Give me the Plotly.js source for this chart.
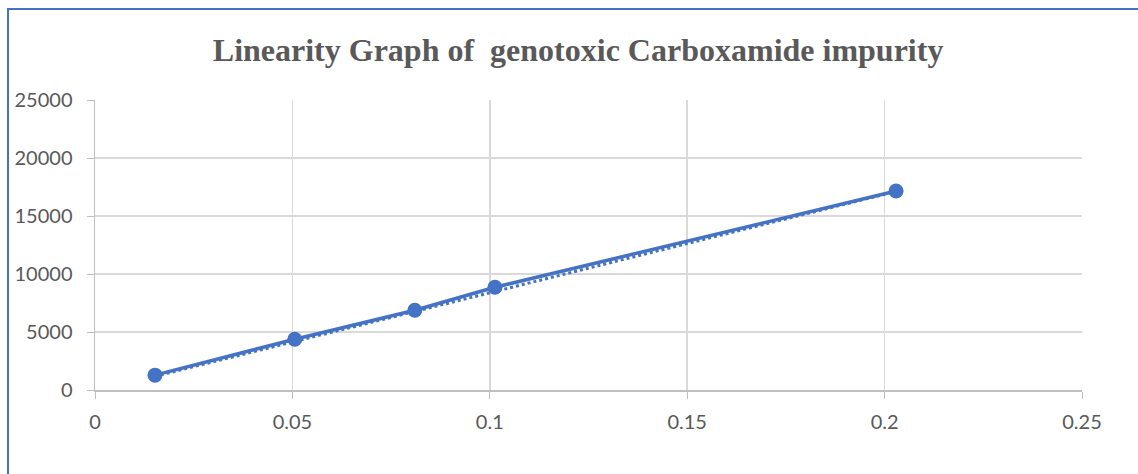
<!DOCTYPE html>
<html><head><meta charset="utf-8">
<script src="https://cdn.plot.ly/plotly-3.0.1.min.js"></script>
<style>
html,body{margin:0;padding:0;background:#fff;}
#wrap{position:relative;width:1138px;height:474px;}
#chart{position:absolute;left:0;top:0;width:1138px;height:474px;}
#frame{position:absolute;left:7px;top:8px;width:1131px;height:466px;border-left:2px solid #4472C4;border-top:2px solid #4472C4;pointer-events:none;}
</style></head>
<body><div id="wrap"><div id="chart"></div><div id="frame"></div></div>
<script>
const concentration = [0.0152, 0.0506, 0.081, 0.1013, 0.2029];
const area = [1280, 4380, 6880, 8860, 17150];
const trendX = [0.0152, 0.2029];
const trendY = [1180, 17120];
const xTicks = [0, 0.05, 0.1, 0.15, 0.2, 0.25];
const xTickText = ['0', '0.05', '0.1', '0.15', '0.2', '0.25'];
const yTicks = [0, 5000, 10000, 15000, 20000, 25000];
const yTickText = ['0', '5000', '10000', '15000', '20000', '25000'];

const blue = '#4472C4';
const traces = [
  {x: trendX, y: trendY, mode: 'lines', line: {color: blue, width: 3, dash: 'dot'}, hoverinfo: 'skip', showlegend: false},
  {x: concentration, y: area, mode: 'lines+markers', line: {color: blue, width: 3.5}, marker: {color: blue, size: 15}, showlegend: false}
];
const tickFont = {family: 'Lato, "Open Sans", sans-serif', size: 20, color: '#595959'};
const layout = {
  width: 1138, height: 474,
  margin: {l: 95, r: 56, t: 100, b: 84},
  paper_bgcolor: '#fff', plot_bgcolor: '#fff',
  title: {text: '<b>Linearity Graph of  genotoxic Carboxamide impurity</b>', x: 0.508, xanchor: 'center', y: 0.895, yanchor: 'middle',
    font: {family: '"Liberation Serif", "Times New Roman", serif', size: 32, color: '#595959'}},
  xaxis: {range: [0, 0.25], tickvals: xTicks, ticktext: xTickText, showgrid: true, gridcolor: '#d9d9d9', gridwidth: 1.5,
    zeroline: false, showline: true, linecolor: '#bfbfbf', linewidth: 1.5, ticks: 'outside', ticklen: 7, tickcolor: '#bfbfbf',
    tickfont: tickFont, ticklabelstandoff: 6, fixedrange: true},
  yaxis: {range: [0, 25000], tickvals: yTicks, ticktext: yTickText, showgrid: true, gridcolor: '#d9d9d9', gridwidth: 1.5,
    zeroline: false, showline: true, linecolor: '#bfbfbf', linewidth: 1.5, ticks: 'outside', ticklen: 7, tickcolor: '#bfbfbf',
    tickfont: tickFont, ticklabelstandoff: 10, fixedrange: true}
};
Plotly.newPlot('chart', traces, layout, {displayModeBar: false, staticPlot: true});
</script></body></html>
